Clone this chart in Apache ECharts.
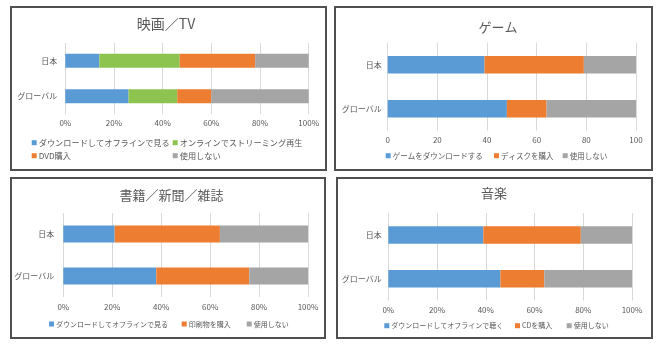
<!DOCTYPE html>
<html>
<head>
<meta charset="utf-8">
<script src="https://cdn.jsdelivr.net/npm/echarts@6/dist/echarts.min.js"></script>
<style>
  html, body { margin: 0; padding: 0; background: #fff; }
  #chart { width: 670px; height: 351px; }
</style>
</head>
<body>
<div id="chart"></div>
<script>
const categories = ['日本', 'グローバル'];

// 映画／TV
const movieNames = ['ダウンロードしてオフラインで見る', 'オンラインでストリーミング再生', 'DVD購入', '使用しない'];
const movieValues = [[14, 26], [33, 20], [31, 14], [22, 40]];
// ゲーム
const gameNames = ['ゲームをダウンロードする', 'ディスクを購入', '使用しない'];
const gameValues = [[39, 48], [40, 16], [21, 36]];
// 書籍／新聞／雑誌
const bookNames = ['ダウンロードしてオフラインで見る', '印刷物を購入', '使用しない'];
const bookValues = [[21, 38], [43, 38], [36, 24]];
// 音楽
const musicNames = ['ダウンロードしてオフラインで聴く', 'CDを購入', '使用しない'];
const musicValues = [[39, 46], [40, 18], [21, 36]];

const xTicks = [0, 20, 40, 60, 80, 100];

const BLUE = '#5B9BD5', ORANGE = '#ED7D31', GREY = '#A5A5A5', GREEN = '#8DC450';
const TXT = '#595959';
const FONT = '"Noto Sans CJK JP", "Noto Sans", sans-serif';

const panels = [
  { title: '映画／TV', titleX: 166, titleY: 25, titleSize: 14,
    names: movieNames, values: movieValues, colors: [BLUE, GREEN, ORANGE, GREY],
    grid: { left: 65.3, right: 361.3, top: 43, height: 71 }, pct: true, margin: 5, catMargin: 8,
    legend: [[31.7, 142.7], [172.7, 142.7], [31.7, 155.7], [172.7, 155.7]], legendSize: 8.2,
    box: [11, 7, 315, 163] },
  { title: 'ゲーム', titleX: 498, titleY: 28, titleSize: 13,
    names: gameNames, values: gameValues, colors: [BLUE, ORANGE, GREY],
    grid: { left: 387.7, right: 34, top: 42.7, height: 88 }, pct: false, margin: 5, catMargin: 6,
    legend: [[385.7, 155.7], [494, 155.7], [562.7, 155.7]], legendSize: 7.5,
    box: [335, 7, 317, 163] },
  { title: '書籍／新聞／雑誌', titleX: 171.5, titleY: 196.7, titleSize: 13,
    names: bookNames, values: bookValues, colors: [BLUE, ORANGE, GREY],
    grid: { left: 63.3, right: 362, top: 213, height: 84 }, pct: true, margin: 6, catMargin: 9,
    legend: [[49, 324], [181.7, 324], [246.7, 324]], legendSize: 7,
    box: [11, 178, 314, 160] },
  { title: '音楽', titleX: 494, titleY: 194.3, titleSize: 13,
    names: musicNames, values: musicValues, colors: [BLUE, ORANGE, GREY],
    grid: { left: 388.3, right: 38, top: 213, height: 87.5 }, pct: true, margin: 5.5, catMargin: 6.6,
    legend: [[384.3, 325.7], [515, 325.7], [566.7, 325.7]], legendSize: 7,
    box: [337, 178, 315, 160] }
];

const option = {
  animation: false,
  backgroundColor: '#fff',
  textStyle: { fontFamily: FONT },
  title: [], grid: [], xAxis: [], yAxis: [], legend: [], series: [], graphic: []
};

panels.forEach((p, i) => {
  option.title.push({
    text: p.title, left: p.titleX, top: p.titleY - p.titleSize * 0.6, textAlign: 'center', padding: 0,
    textStyle: { fontSize: p.titleSize, fontWeight: 'normal', color: TXT, fontFamily: FONT }
  });
  option.grid.push(p.grid);
  option.xAxis.push({
    type: 'value', gridIndex: i, min: 0, max: 100, interval: 20,
    axisLine: { show: false }, axisTick: { show: false },
    axisLabel: {
      color: TXT, fontSize: 8, margin: p.margin, fontFamily: FONT,
      formatter: v => xTicks.includes(v) ? (p.pct ? v + '%' : String(v)) : ''
    },
    splitLine: { show: true, lineStyle: { color: '#D9D9D9', width: 1 } }
  });
  option.yAxis.push({
    type: 'category', gridIndex: i, data: categories, inverse: true,
    axisLine: { show: false }, axisTick: { show: false },
    axisLabel: { color: TXT, fontSize: 8, margin: p.catMargin, fontFamily: FONT }
  });
  p.names.forEach((name, k) => {
    option.series.push({
      name, type: 'bar', stack: 'p' + i, xAxisIndex: i, yAxisIndex: i,
      data: p.values[k], barWidth: '40%', itemStyle: { color: p.colors[k] }
    });
    const pos = p.legend[k];
    option.legend.push({
      data: [name], left: pos[0], top: pos[1] - 5, padding: 0,
      icon: 'rect', itemWidth: 5, itemHeight: 5, selectedMode: false,
      textStyle: { fontSize: p.legendSize, color: TXT, lineHeight: 10, fontFamily: FONT,
        padding: [0, 0, 0, -3] }
    });
  });
  option.graphic.push({
    type: 'rect', silent: true,
    shape: { x: p.box[0], y: p.box[1], width: p.box[2], height: p.box[3] },
    style: { fill: 'none', stroke: '#505050', lineWidth: 2 }
  });
});

const chart = echarts.init(document.getElementById('chart'), null, { renderer: 'canvas' });
chart.setOption(option);
</script>
</body>
</html>
